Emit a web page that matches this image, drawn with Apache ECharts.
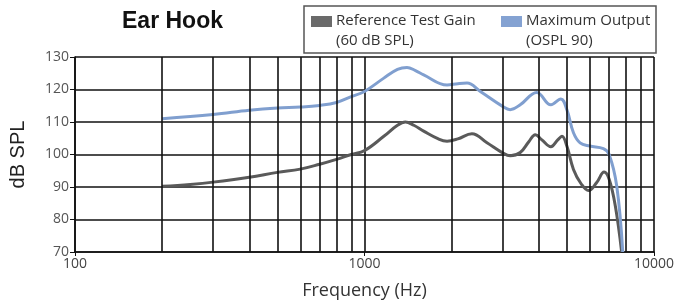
<!DOCTYPE html>
<html>
<head>
<meta charset="utf-8">
<script src="https://cdn.jsdelivr.net/npm/echarts@6/dist/echarts.min.js"></script>
<style>html,body{margin:0;padding:0;background:#fff;}#c{width:692px;height:305px;}</style>
</head>
<body>
<div id="c"></div>
<script>
// Data (frequency in Hz, level in dB SPL)
const gainFreq = [200,250,300,400,500,600,700,800,900,1000,1166,1300,1384,1480,1601,1800,1928,2100,2350,2649,3000,3186,3450,3700,3890,4100,4403,4650,4809,5000,5270,5600,5940,6340,6725,7000,7350,7730];
const gainDb   = [90.2,90.8,91.5,93,94.5,95.5,97,98.5,100,101.2,105.6,109,110,109,107.2,104.8,104.1,104.8,106.4,103.6,100.5,99.6,100.6,104,106.1,104.5,102.4,104.5,105.6,102.6,95.4,91,88.9,91.4,94.6,92.4,84.2,70];
const osplFreq = [200,300,400,500,600,700,800,900,1000,1166,1300,1402,1500,1601,1928,2100,2260,2513,3000,3186,3450,3935,4403,4766,5000,5270,5555,6000,6685,7000,7435,7800];
const osplDb   = [111,112.3,113.6,114.3,114.6,115.1,116,117.8,119.4,123.5,126.2,126.8,125.8,124.5,121.4,121.8,122,119.4,114.8,113.8,115.3,119.1,115.3,117.1,113.8,106.7,103.6,102.6,101.8,100,90.3,70];
const minorGrid = [200,300,400,500,600,700,800,900,2000,3000,4000,5000,6000,7000,8000,9000];
const seriesNames = ['Reference Test Gain', 'Maximum Output'];
const seriesSub = ['(60 dB SPL)', '(OSPL 90)'];
const titleText = 'Ear Hook';

const gridColor = '#111';
const chart = echarts.init(document.getElementById('c'), null, {renderer: 'canvas'});
const zip = (a, b) => a.map((v, i) => [v, b[i]]);

chart.setOption({
  animation: false,
  title: {
    text: titleText, left: 122, top: 10, padding: 0,
    textStyle: {fontFamily: 'Liberation Sans', fontWeight: 'bold', fontSize: 23, color: '#111'}
  },
  grid: {left: 74, right: 38, top: 57, bottom: 52},
  xAxis: {
    type: 'log', logBase: 10, min: 100, max: 10000,
    name: 'Frequency (Hz)', nameLocation: 'middle', nameGap: 30,
    nameTextStyle: {fontFamily: 'Open Sans', fontSize: 18, color: '#333'},
    axisLine: {show: true, lineStyle: {color: gridColor, width: 1.6}},
    axisTick: {show: true, length: 4, lineStyle: {color: gridColor}},
    axisLabel: {fontFamily: 'Open Sans', fontSize: 14, color: '#444', margin: 5, formatter: v => String(Math.round(v))},
    splitLine: {show: true, lineStyle: {color: gridColor, width: 1.6}}
  },
  yAxis: {
    type: 'value', min: 70, max: 130, interval: 10,
    name: 'dB SPL', nameLocation: 'middle', nameGap: 47, nameRotate: 90,
    nameTextStyle: {fontFamily: 'Liberation Sans', fontSize: 20, color: '#222'},
    axisLine: {show: true, lineStyle: {color: gridColor, width: 1.6}},
    axisTick: {show: true, length: 5, lineStyle: {color: gridColor}},
    axisLabel: {fontFamily: 'Open Sans', fontSize: 14, color: '#555', margin: 6},
    splitLine: {show: true, lineStyle: {color: gridColor, width: 1.6}}
  },
  series: [
    {
      name: 'grid', type: 'line', data: [], silent: true,
      markLine: {
        silent: true, symbol: 'none', label: {show: false},
        lineStyle: {color: gridColor, width: 1.6, type: 'solid'},
        data: minorGrid.map(v => ({xAxis: v}))
      }
    },
    {
      name: seriesNames[0], type: 'line', data: zip(gainFreq, gainDb),
      smooth: 0.4, showSymbol: false, z: 3,
      lineStyle: {color: '#5a5a5a', width: 3}, itemStyle: {color: '#5a5a5a'}
    },
    {
      name: seriesNames[1], type: 'line', data: zip(osplFreq, osplDb),
      smooth: 0.4, showSymbol: false, z: 3,
      lineStyle: {color: '#809fcf', width: 3}, itemStyle: {color: '#809fcf'}
    }
  ],
  graphic: [
    {type: 'rect', shape: {x: 304, y: 6, width: 352, height: 47}, style: {fill: '#fff', stroke: '#555', lineWidth: 1.5}},
    {type: 'rect', shape: {x: 311, y: 16, width: 21, height: 11}, style: {fill: '#6a6a6a'}},
    {type: 'rect', shape: {x: 501, y: 16, width: 21, height: 11}, style: {fill: '#84a2d2'}},
    {type: 'text', x: 336, y: 11, style: {text: seriesNames[0] + '\n' + seriesSub[0], fontFamily: 'Open Sans', fontSize: 15, lineHeight: 20, fill: '#333', textVerticalAlign: 'top'}},
    {type: 'text', x: 526, y: 11, style: {text: seriesNames[1] + '\n' + seriesSub[1], fontFamily: 'Open Sans', fontSize: 15, lineHeight: 20, fill: '#333', textVerticalAlign: 'top'}}
  ]
});
</script>
</body>
</html>
